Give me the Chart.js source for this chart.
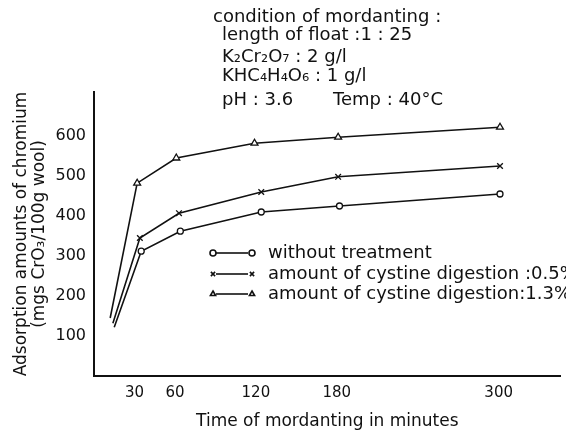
<!DOCTYPE html>
<html>
<head>
<meta charset="utf-8">
<script src="https://cdn.jsdelivr.net/npm/chart.js@4"></script>
<style>
  html, body { margin: 0; padding: 0; background: #fff; }
  #wrap { position: relative; width: 566px; height: 432px; }
</style>
</head>
<body>
<div id="wrap"><canvas id="mordantChart" width="566" height="432"></canvas></div>
<script>
// values (minutes, mg CrO3 / 100 g wool)
const xTicks = [30, 60, 120, 180, 300];
const yTicks = [100, 200, 300, 400, 500, 600];

const untreatedTime = [15, 35, 64, 124, 182, 301];
const untreatedVal = [122, 312, 362, 410, 425, 455];

const cyst05Time = [14, 34, 63, 124, 181, 301];
const cyst05Val = [132, 345, 407, 460, 498, 525];

const cyst13Time = [12, 32, 61, 119, 181, 301];
const cyst13Val = [145, 482, 545, 582, 597, 622];

const seriesNames = [
  'without treatment',
  'amount of cystine digestion :0.5%',
  'amount of cystine digestion:1.3%'
];

const conditionLines = [
  'condition of mordanting :',
  'length of float :1 : 25',
  'K\u2082Cr\u2082O\u2087 : 2 g/l',
  'KHC\u2084H\u2084O\u2086 : 1 g/l',
  'pH : 3.6',
  'Temp : 40\u00b0C'
];

const FONT = '"DejaVu Sans", sans-serif';

function pairs(xs, ys) {
  return xs.map((x, i) => ({ x: x, y: ys[i] }));
}

// first point of each curve is just the line start, no marker
function markerRadius(r) {
  return ctx => (ctx.dataIndex === 0 ? 0 : r);
}

function makeSet(label, xs, ys, style, r) {
  return {
    label: label,
    data: pairs(xs, ys),
    borderColor: '#111',
    borderWidth: 1.6,
    backgroundColor: '#fff',
    pointStyle: style,
    pointRadius: markerRadius(r),
    pointBorderWidth: 1.3,
    pointBorderColor: '#111',
    pointBackgroundColor: '#fff',
    tension: 0
  };
}

const notesPlugin = {
  id: 'notes',
  afterDraw(chart) {
    const c = chart.ctx;
    c.save();
    c.fillStyle = '#111';
    c.textBaseline = 'middle';
    c.textAlign = 'left';
    c.font = '18px ' + FONT;
    c.fillText(conditionLines[0], 213, 17);
    c.fillText(conditionLines[1], 222, 35);
    c.fillText(conditionLines[2], 222, 57);
    c.fillText(conditionLines[3], 222, 76);
    c.fillText(conditionLines[4], 222, 100);
    c.fillText(conditionLines[5], 333, 100);

    // legend: marker - line - marker, then the text
    const rows = [253, 274, 294];
    const styles = ['circle', 'crossRot', 'triangle'];
    rows.forEach((y, i) => {
      c.strokeStyle = '#111';
      c.lineWidth = 1.6;
      c.beginPath();
      c.moveTo(216, y);
      c.lineTo(248, y);
      c.stroke();
      const opts = { pointStyle: styles[i], radius: 3, borderWidth: 1.2 };
      c.fillStyle = '#fff';
      Chart.helpers.drawPoint(c, opts, 213, y);
      Chart.helpers.drawPoint(c, opts, 252, y);
      c.fillStyle = '#111';
      c.fillText(seriesNames[i], 268, y);
    });
    c.restore();
  }
};

new Chart(document.getElementById('mordantChart'), {
  type: 'line',
  data: {
    datasets: [
      makeSet(seriesNames[0], untreatedTime, untreatedVal, 'circle', 3),
      makeSet(seriesNames[1], cyst05Time, cyst05Val, 'crossRot', 4),
      makeSet(seriesNames[2], cyst13Time, cyst13Val, 'triangle', 4)
    ]
  },
  options: {
    responsive: false,
    animation: false,
    layout: { padding: { top: 92, right: 4, left: 0, bottom: 0 } },
    plugins: {
      legend: { display: false },
      tooltip: { enabled: false }
    },
    scales: {
      x: {
        type: 'linear',
        min: 0,
        max: 346,
        afterBuildTicks(axis) { axis.ticks = xTicks.map(v => ({ value: v })); },
        afterFit(axis) { axis.height = 56; },
        grid: { display: false, drawTicks: false },
        border: { display: true, color: '#111', width: 2 },
        ticks: { color: '#111', font: { family: FONT, size: 15 }, padding: 8 },
        title: {
          display: true,
          text: 'Time of mordanting in minutes',
          color: '#111',
          font: { family: FONT, size: 17 },
          padding: { top: 2, bottom: 0 }
        }
      },
      y: {
        min: 0,
        max: 710,
        afterBuildTicks(axis) { axis.ticks = yTicks.map(v => ({ value: v })); },
        afterFit(axis) { axis.width = 94; },
        grid: { display: false, drawTicks: false },
        border: { display: true, color: '#111', width: 2 },
        ticks: { color: '#111', font: { family: FONT, size: 16 }, padding: 8 },
        title: {
          display: true,
          text: ['Adsorption amounts of chromium', '(mgs CrO\u2083/100g wool)'],
          color: '#111',
          font: { family: FONT, size: 17, lineHeight: 1.1 },
          padding: { top: 12, bottom: 0 }
        }
      }
    }
  },
  plugins: [notesPlugin]
});
</script>
</body>
</html>
